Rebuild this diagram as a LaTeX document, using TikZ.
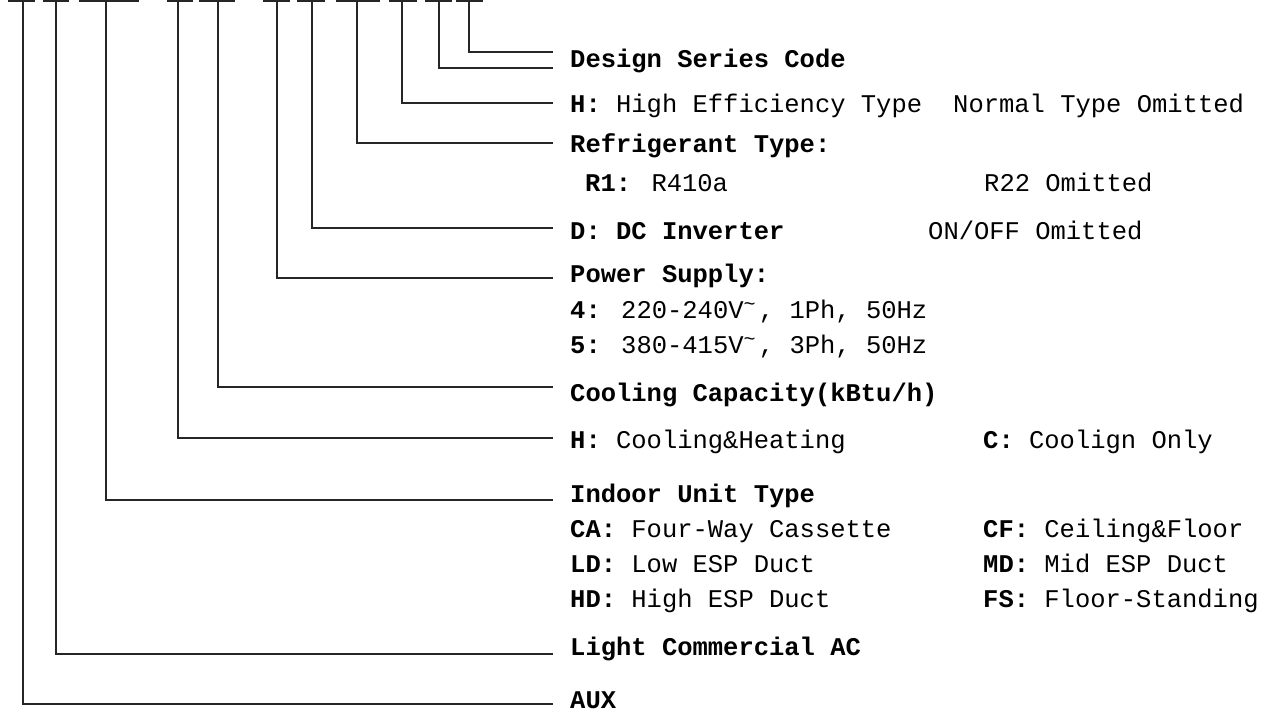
\documentclass[tikz,border=0pt]{standalone}
\usepackage{fontspec}
\setmainfont{Liberation Mono}
\usetikzlibrary{positioning}
% raised tilde after the voltage
\newcommand{\acv}{\makebox[15.3pt][l]{\raisebox{8pt}{\fontsize{20}{20}\selectfont\char`\~}}}

\begin{document}
\begin{tikzpicture}[
  x=1pt, y=-1pt,
  lbl/.style={anchor=base west, inner sep=0pt, font=\fontsize{25.5}{30}\selectfont},
  lead/.style={line width=1.6pt, color=black!85},
  bar/.style={line width=2pt, color=black!85},
]
  \useasboundingbox (0,0) rectangle (1269,711);

  % Code digits (top edge)
  \foreach \l/\r in {8/35, 43/69, 79/139, 167/193, 199/235, 263/290, 297/325, 336/380, 389/417, 425/452, 456/483}
    \draw[bar] (\l,1) -- (\r,1);

  % Tap points under the digits
  \coordinate (tAux) at (23,1);
  \coordinate (tLcac) at (56,1);
  \coordinate (tIndoor) at (106,1);
  \coordinate (tMode) at (178,1);
  \coordinate (tCap) at (218,1);
  \coordinate (tPower) at (277,1);
  \coordinate (tInv) at (312,1);
  \coordinate (tRef) at (357,1);
  \coordinate (tEff) at (402,1);
  \coordinate (tDesB) at (439,1);
  \coordinate (tDesA) at (469,1);

  % Leader ends
  \coordinate (eDesA) at (553,52);
  \coordinate (eDesB) at (553,68);
  \coordinate (eEff) at (553,103);
  \coordinate (eRef) at (553,143);
  \coordinate (eInv) at (553,228);
  \coordinate (ePower) at (553,278);
  \coordinate (eCap) at (553,387);
  \coordinate (eMode) at (553,438);
  \coordinate (eIndoor) at (553,500);
  \coordinate (eLcac) at (553,654);
  \coordinate (eAux) at (553,704);

  % Labels
  \node[lbl] (design) at (570,68) {\textbf{Design Series Code}};
  \node[lbl] (eff) at (570,113) {\textbf{H:} High Efficiency Type};
  \node[lbl] (normal) at (953,113) {Normal Type Omitted};
  \node[lbl] (reftype) at (570,153) {\textbf{Refrigerant Type:}};
  \node[lbl] (r1) at (585,192) {\textbf{R1:} R410a};
  \node[lbl] (r22) at (984,192) {R22 Omitted};
  \node[lbl] (inv) at (570,240) {\textbf{D: DC Inverter}};
  \node[lbl] (onoff) at (928,240) {ON/OFF Omitted};
  \node[lbl] (power) at (570,283) {\textbf{Power Supply:}};
  \node[lbl] (ps4) at (570,319) {\textbf{4:} 220-240V\acv, 1Ph, 50Hz};
  \node[lbl] (ps5) at (570,353) {\textbf{5:} 380-415V\acv, 3Ph, 50Hz};
  \node[lbl] (cap) at (570,401) {\textbf{Cooling Capacity(kBtu/h)}};
  \node[lbl] (heat) at (570,448) {\textbf{H:} Cooling\&Heating};
  \node[lbl] (cool) at (983,448) {\textbf{C:} Coolign Only};
  \node[lbl] (indoor) at (570,502) {\textbf{Indoor Unit Type}};
  \node[lbl] (ca) at (570,537) {\textbf{CA:} Four-Way Cassette};
  \node[lbl] (cf) at (983,537) {\textbf{CF:} Ceiling\&Floor};
  \node[lbl] (ld) at (570,572) {\textbf{LD:} Low ESP Duct};
  \node[lbl] (md) at (983,572) {\textbf{MD:} Mid ESP Duct};
  \node[lbl] (hd) at (570,607) {\textbf{HD:} High ESP Duct};
  \node[lbl] (fs) at (983,607) {\textbf{FS:} Floor-Standing};
  \node[lbl] (lcac) at (570,655) {\textbf{Light Commercial AC}};
  \node[lbl] (aux) at (570,708) {\textbf{AUX}};

  % Leaders
  \draw[lead] (tDesA) |- (eDesA);
  \draw[lead] (tDesB) |- (eDesB);
  \draw[lead] (tEff) |- (eEff);
  \draw[lead] (tRef) |- (eRef);
  \draw[lead] (tInv) |- (eInv);
  \draw[lead] (tPower) |- (ePower);
  \draw[lead] (tCap) |- (eCap);
  \draw[lead] (tMode) |- (eMode);
  \draw[lead] (tIndoor) |- (eIndoor);
  \draw[lead] (tLcac) |- (eLcac);
  \draw[lead] (tAux) |- (eAux);

\end{tikzpicture}
\end{document}
